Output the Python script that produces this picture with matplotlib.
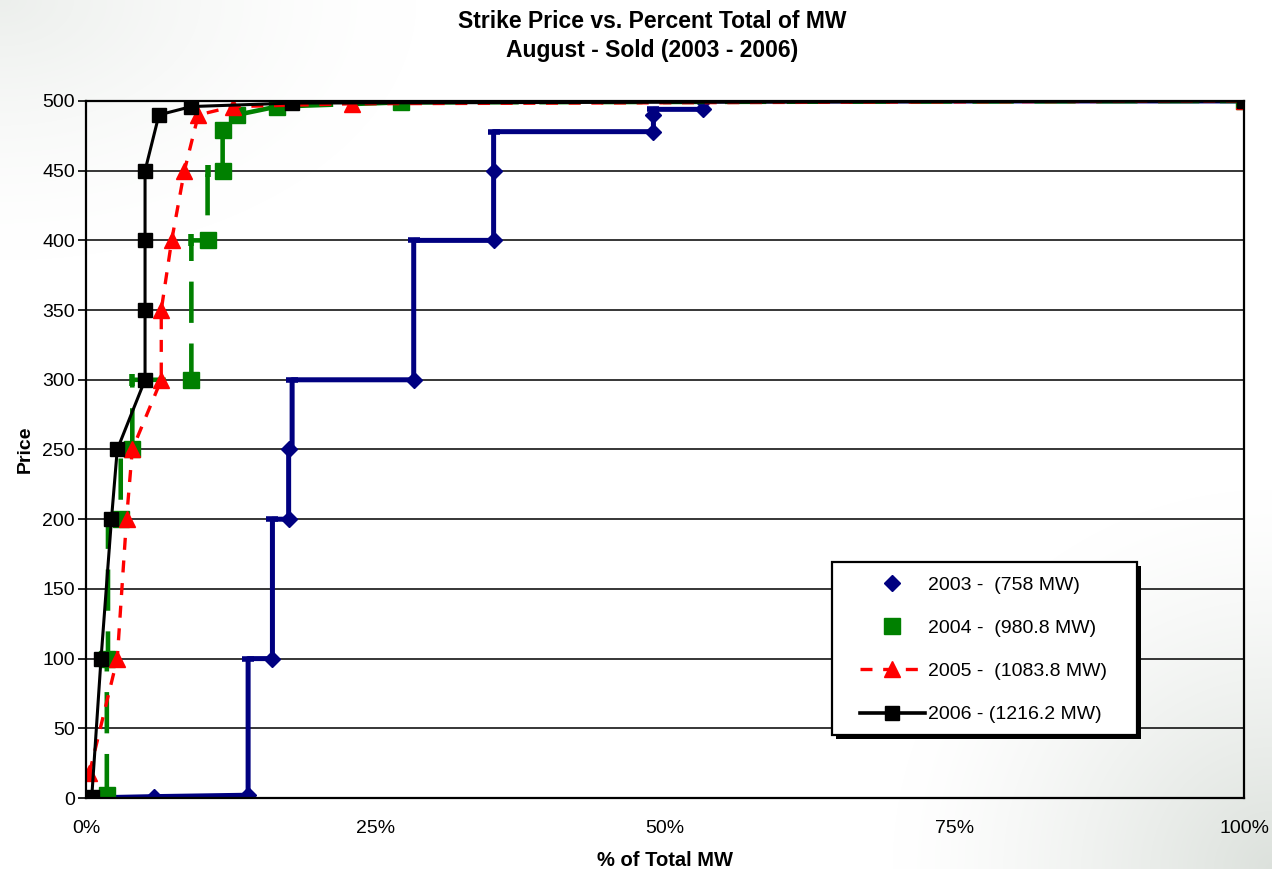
import numpy as np
import matplotlib.pyplot as plt
from matplotlib.lines import Line2D
from matplotlib.patches import Rectangle
from matplotlib.ticker import FuncFormatter, MultipleLocator

plt.rcParams['font.family'] = ['Liberation Sans', 'DejaVu Sans']

# % of total MW vs strike price, step curves
pct_2003 = [0, 5.9, 14.0, 14.0, 16.1, 16.1, 17.5, 17.5, 17.8, 17.8, 28.3, 28.3,
            35.2, 35.2, 35.2, 49.0, 49.0, 49.0, 53.3, 53.3, 100]
price_2003 = [0, 1, 2, 100, 100, 200, 200, 250, 250, 300, 300, 400,
              400, 450, 478, 478, 490, 494, 494, 500, 500]

pct_2004 = [1.8, 1.8, 1.9, 1.9, 3.0, 3.0, 4.0, 4.0, 9.1, 9.1, 10.5, 10.5,
            11.8, 11.8, 11.8, 13.0, 16.5, 27.2, 100]
price_2004 = [2, 100, 100, 200, 200, 250, 250, 300, 300, 400, 400, 450,
              450, 479, 490, 490, 496, 499, 500]

pct_2005 = [0.3, 2.7, 3.5, 4.0, 6.5, 6.5, 7.4, 8.5, 9.7, 12.7, 23.0, 100]
price_2005 = [18, 100, 200, 250, 300, 350, 400, 450, 490, 496, 498, 500]

pct_2006 = [0.5, 1.3, 2.2, 2.7, 5.1, 5.1, 5.1, 5.1, 6.3, 9.1, 17.8, 100]
price_2006 = [1, 100, 200, 250, 300, 350, 400, 450, 490, 496, 498.5, 500]

labels = ['2003 -  (758 MW)', '2004 -  (980.8 MW)',
          '2005 -  (1083.8 MW)', '2006 - (1216.2 MW)']

# which points carry a full marker (the others are step corners)
mark_2003 = [0, 1, 2, 4, 6, 7, 10, 12, 13, 15, 16, 18, 19, 20]
caps_2003 = [3, 5, 9, 11, 14, 17]
mark_2004 = [0, 1, 4, 6, 8, 10, 12, 13, 15, 16, 17, 18]
caps_2004 = [2, 7, 9, 11]

navy = '#000080'
green = '#008000'
red = '#ff0000'

fig = plt.figure(figsize=(12.72, 8.69), dpi=100)

# faint slide-style shading in the corners
bg = fig.add_axes([0, 0, 1, 1], zorder=-5)
yy, xx = np.mgrid[0:869, 0:1272]
d_br = np.hypot(1272 - xx, 869 - yy) / 380.0
d_tl = np.hypot(xx / 1.6, yy) / 260.0
shade = 0.13 * np.clip(1 - d_br, 0, 1) ** 1.3 + 0.07 * np.clip(1 - d_tl, 0, 1) ** 1.5
img = np.dstack([1 - shade * 1.05, 1 - shade * 0.9, 1 - shade * 1.05])
bg.imshow(np.clip(img, 0, 1), aspect='auto', extent=(0, 1, 0, 1))
bg.axis('off')

ax = fig.add_axes([0.0676, 0.0817, 0.9104, 0.8021])
ax.patch.set_alpha(0)

for y in range(50, 500, 50):
    ax.axhline(y, color='black', lw=1.1, zorder=1)

ax.plot(pct_2003, price_2003, color=navy, lw=3.6, marker='D', ms=8,
        markevery=mark_2003, zorder=3)
ax.plot([pct_2003[i] for i in caps_2003], [price_2003[i] for i in caps_2003],
        ls='none', marker='_', ms=9, mew=4, color=navy, zorder=3)

ax.plot(pct_2004, price_2004, color=green, lw=3.3, ls=(0, (9, 4.5)),
        marker='s', ms=11, markevery=mark_2004, zorder=4)
ax.plot([pct_2004[i] for i in caps_2004], [price_2004[i] for i in caps_2004],
        ls='none', marker='|', ms=9, mew=4, color=green, zorder=4)

ax.plot(pct_2005, price_2005, color=red, lw=2.4, ls=(0, (3.6, 3.2)),
        marker='^', ms=11, zorder=5)

ax.plot(pct_2006, price_2006, color='black', lw=2.2, marker='s', ms=10,
        zorder=6)

ax.set_xlim(0, 100)
ax.set_ylim(0, 500)
ax.xaxis.set_major_locator(MultipleLocator(25))
ax.xaxis.set_major_formatter(FuncFormatter(lambda v, p: '%d%%' % v))
ax.yaxis.set_major_locator(MultipleLocator(50))
ax.tick_params(axis='y', direction='out', length=6, width=1.2, labelsize=14,
               pad=2)
ax.tick_params(axis='x', length=0, labelsize=14, pad=16)
for s in ax.spines.values():
    s.set_linewidth(1.6)
    s.set_zorder(7)

ax.set_xlabel('% of Total MW', fontsize=14.5, fontweight='bold', labelpad=10)
ax.set_ylabel('Price', fontsize=14, fontweight='bold', labelpad=6)

fig.text(0.513, 1 - 21 / 869, 'Strike Price vs. Percent Total of MW',
         ha='center', va='center', fontsize=16.5, fontweight='bold')
fig.text(0.513, 1 - 50 / 869, 'August - Sold (2003 - 2006)',
         ha='center', va='center', fontsize=16.5, fontweight='bold')

# legend box with hard shadow
sx, sy = 4 / 1158, 4 / 697
ax.add_patch(Rectangle((0.644 + sx, 0.090 - sy), 0.264, 0.249,
                       transform=ax.transAxes, facecolor='black',
                       edgecolor='none', zorder=9, clip_on=False))
ax.add_patch(Rectangle((0.644, 0.090), 0.264, 0.249, transform=ax.transAxes,
                       facecolor='white', edgecolor='black', lw=1.6,
                       zorder=9.5, clip_on=False))

handles = [
    Line2D([], [], ls='none', marker='D', ms=8, color=navy),
    Line2D([], [], ls='none', marker='s', ms=11, color=green),
    Line2D([], [], color=red, lw=2.4, ls=(0, (3.6, 3.2)), marker='^', ms=11),
    Line2D([], [], color='black', lw=2.6, marker='s', ms=10),
]
leg = ax.legend(handles, labels, loc='upper left',
                bbox_to_anchor=(0.668, 0.3185), fontsize=14,
                labelspacing=1.32, handlelength=3.35, handletextpad=0.15,
                borderpad=0, borderaxespad=0, frameon=False)
leg.set_zorder(10)

fig.savefig('out.png', dpi=100)
